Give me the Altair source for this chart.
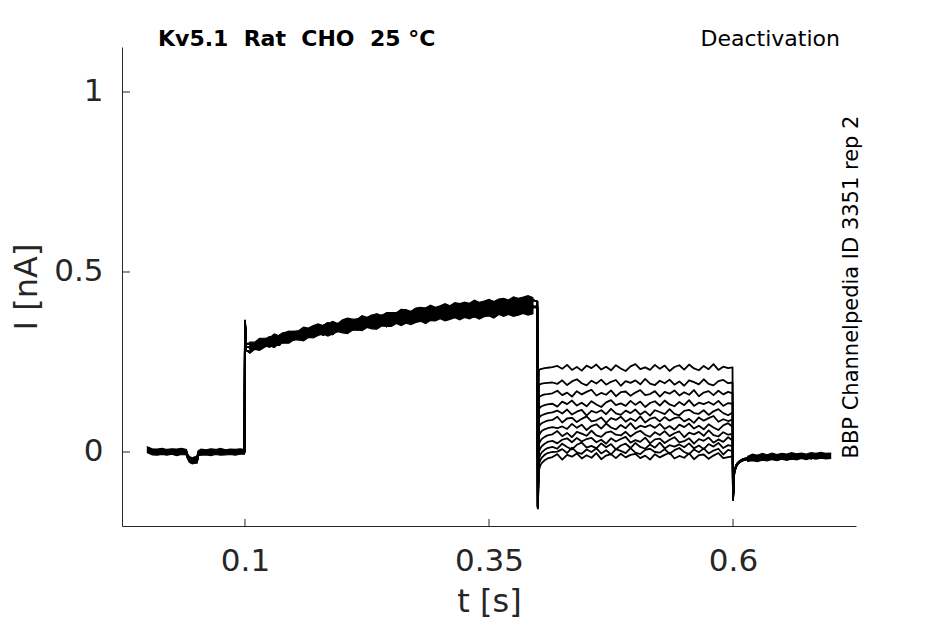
import altair as alt
import pandas as pd

# ---------------- data ----------------
t_pre = [0.0, 0.005, 0.01, 0.015, 0.02, 0.025, 0.03, 0.035, 0.04, 0.041, 0.043, 0.046,
         0.049, 0.051, 0.052, 0.055, 0.06, 0.065, 0.07, 0.075, 0.08, 0.085, 0.09, 0.095, 0.0995]
pre_A = [0.010, 0.003, -0.004, 0.005, -0.002, 0.004, -0.005, 0.002, 0.001, -0.012,
         -0.021, -0.026, -0.020, -0.023, -0.004, 0.003, -0.004, 0.002, -0.003, 0.004,
         -0.002, 0.003, -0.004, 0.002, 0.001]
pre_B = [0.004, -0.003, 0.005, -0.004, 0.003, -0.003, 0.004, -0.004, -0.002, -0.010,
         -0.024, -0.021, -0.027, -0.018, -0.001, -0.004, 0.003, -0.003, 0.004, -0.004,
         0.003, -0.003, 0.002, -0.002, 0.003]
pre_C = [0.007, 0.000, 0.002, -0.002, 0.005, -0.001, 0.001, 0.004, -0.003, -0.014,
         -0.019, -0.025, -0.022, -0.025, -0.006, 0.001, 0.000, 0.004, -0.001, 0.001,
         0.004, -0.001, 0.003, -0.003, -0.001]
pre_hi = [0.014, 0.009, 0.008, 0.010, 0.007, 0.009, 0.008, 0.010, 0.007, -0.004,
          -0.013, -0.016, -0.013, -0.014, 0.003, 0.008, 0.006, 0.009, 0.007, 0.010,
          0.006, 0.008, 0.007, 0.009, 0.007]
pre_lo = [-0.002, -0.008, -0.009, -0.007, -0.009, -0.006, -0.010, -0.007, -0.008, -0.018,
          -0.029, -0.033, -0.031, -0.031, -0.010, -0.009, -0.008, -0.010, -0.007, -0.009,
          -0.008, -0.007, -0.009, -0.006, -0.006]

t_act = [0.1, 0.1012,
         0.105, 0.11, 0.115, 0.12, 0.125, 0.13, 0.135, 0.14, 0.145, 0.15,
         0.155, 0.16, 0.165, 0.17, 0.175, 0.18, 0.185, 0.19, 0.195, 0.2,
         0.205, 0.21, 0.215, 0.22, 0.225, 0.23, 0.235, 0.24, 0.245, 0.25,
         0.255, 0.26, 0.265, 0.27, 0.275, 0.28, 0.285, 0.29, 0.295, 0.3,
         0.305, 0.31, 0.315, 0.32, 0.325, 0.33, 0.335, 0.34, 0.345, 0.35,
         0.355, 0.36, 0.365, 0.37, 0.375, 0.38, 0.385, 0.39, 0.395,
         0.3995]
act_A = [0.365, 0.300,
         0.301, 0.299, 0.313, 0.309, 0.319, 0.311, 0.323, 0.331, 0.324, 0.334,
         0.328, 0.344, 0.338, 0.348, 0.337, 0.350, 0.358, 0.348, 0.356, 0.351,
         0.366, 0.359, 0.368, 0.357, 0.371, 0.379, 0.368, 0.379, 0.370, 0.385,
         0.370, 0.384, 0.394, 0.381, 0.392, 0.381, 0.399, 0.389, 0.398, 0.384,
         0.403, 0.394, 0.410, 0.394, 0.405, 0.393, 0.413, 0.403, 0.411, 0.395,
         0.415, 0.404, 0.420, 0.403, 0.416, 0.403, 0.425, 0.411, 0.422,
         0.418]
act_B = [0.358, 0.283,
         0.277, 0.289, 0.288, 0.302, 0.292, 0.302, 0.297, 0.312, 0.317, 0.312,
         0.322, 0.313, 0.326, 0.322, 0.336, 0.325, 0.334, 0.327, 0.344, 0.344,
         0.338, 0.353, 0.340, 0.351, 0.348, 0.362, 0.349, 0.361, 0.349, 0.366,
         0.365, 0.357, 0.373, 0.358, 0.373, 0.381, 0.370, 0.382, 0.368, 0.382,
         0.374, 0.391, 0.380, 0.392, 0.378, 0.389, 0.376, 0.394, 0.385, 0.399,
         0.383, 0.397, 0.383, 0.397, 0.404, 0.390, 0.401, 0.386, 0.405,
         0.400]
act_C = [0.362, 0.292,
         0.291, 0.301, 0.294, 0.306, 0.304, 0.317, 0.309, 0.310, 0.324, 0.319,
         0.332, 0.326, 0.325, 0.338, 0.337, 0.347, 0.336, 0.347, 0.339, 0.355,
         0.348, 0.357, 0.364, 0.352, 0.361, 0.354, 0.369, 0.363, 0.375, 0.363,
         0.375, 0.383, 0.370, 0.379, 0.370, 0.385, 0.379, 0.394, 0.379, 0.388,
         0.397, 0.382, 0.394, 0.387, 0.403, 0.391, 0.401, 0.388, 0.408, 0.396,
         0.404, 0.391, 0.407, 0.412, 0.399, 0.411, 0.397, 0.411, 0.401,
         0.405]
t_band = [0.105, 0.11, 0.115, 0.12, 0.125, 0.13, 0.135, 0.14, 0.145, 0.15,
          0.155, 0.16, 0.165, 0.17, 0.175, 0.18, 0.185, 0.19, 0.195, 0.2,
          0.205, 0.21, 0.215, 0.22, 0.225, 0.23, 0.235, 0.24, 0.245, 0.25,
          0.255, 0.26, 0.265, 0.27, 0.275, 0.28, 0.285, 0.29, 0.295, 0.3,
          0.305, 0.31, 0.315, 0.32, 0.325, 0.33, 0.335, 0.34, 0.345, 0.35,
          0.355, 0.36, 0.365, 0.37, 0.375, 0.38, 0.385, 0.39, 0.395]
act_hi = [0.305, 0.305, 0.316, 0.316, 0.317, 0.328, 0.323, 0.331, 0.336, 0.335,
          0.337, 0.347, 0.344, 0.351, 0.356, 0.351, 0.357, 0.363, 0.357, 0.367,
          0.372, 0.369, 0.369, 0.379, 0.374, 0.380, 0.384, 0.379, 0.387, 0.387,
          0.387, 0.396, 0.395, 0.391, 0.400, 0.402, 0.400, 0.408, 0.402, 0.406,
          0.412, 0.406, 0.415, 0.412, 0.416, 0.413, 0.422, 0.416, 0.419, 0.424,
          0.418, 0.425, 0.427, 0.422, 0.431, 0.427, 0.430, 0.434, 0.429]
act_lo = [0.275, 0.285, 0.282, 0.291, 0.295, 0.290, 0.302, 0.302, 0.302, 0.312,
          0.311, 0.309, 0.318, 0.317, 0.324, 0.328, 0.322, 0.328, 0.334, 0.331,
          0.329, 0.338, 0.339, 0.337, 0.346, 0.342, 0.341, 0.350, 0.349, 0.349,
          0.357, 0.351, 0.358, 0.354, 0.360, 0.363, 0.357, 0.365, 0.364, 0.370,
          0.364, 0.368, 0.373, 0.367, 0.374, 0.370, 0.376, 0.369, 0.376, 0.378,
          0.372, 0.382, 0.377, 0.382, 0.377, 0.380, 0.385, 0.380, 0.384]

t_tail = [0.4, 0.4012, 0.4025, 0.404, 0.407, 0.41, 0.415,
          0.42, 0.425, 0.43, 0.435, 0.44, 0.445, 0.45, 0.455, 0.46, 0.465,
          0.47, 0.475, 0.48, 0.485, 0.49, 0.495, 0.5, 0.505, 0.51, 0.515,
          0.52, 0.525, 0.53, 0.535, 0.54, 0.545, 0.55, 0.555, 0.56, 0.565,
          0.57, 0.575, 0.58, 0.585, 0.59, 0.595,
          0.5995]
tail_1 = [-0.155, 0.228, 0.230, 0.231, 0.233, 0.234, 0.236,
          0.239, 0.231, 0.242, 0.228, 0.236, 0.226, 0.240, 0.233, 0.243, 0.229,
          0.237, 0.227, 0.241, 0.232, 0.225, 0.238, 0.244, 0.230, 0.235, 0.228,
          0.242, 0.231, 0.240, 0.225, 0.236, 0.241, 0.229, 0.243, 0.232, 0.227,
          0.239, 0.230, 0.244, 0.228, 0.237, 0.233, 0.235]
tail_2 = [-0.150, 0.186, 0.188, 0.190, 0.191, 0.192, 0.193,
          0.189, 0.199, 0.186, 0.196, 0.202, 0.191, 0.185, 0.198, 0.190, 0.201,
          0.187, 0.195, 0.200, 0.184, 0.197, 0.192, 0.199, 0.188, 0.203, 0.190,
          0.186, 0.198, 0.191, 0.201, 0.187, 0.196, 0.184, 0.199, 0.194, 0.188,
          0.202, 0.189, 0.185, 0.197, 0.200, 0.191, 0.193]
tail_3 = [-0.152, 0.152, 0.155, 0.157, 0.160, 0.161, 0.163,
          0.170, 0.158, 0.165, 0.154, 0.169, 0.160, 0.167, 0.173, 0.157, 0.164,
          0.159, 0.171, 0.155, 0.166, 0.168, 0.156, 0.165, 0.172, 0.158, 0.161,
          0.169, 0.154, 0.167, 0.162, 0.171, 0.157, 0.166, 0.159, 0.172, 0.155,
          0.165, 0.169, 0.158, 0.170, 0.160, 0.167, 0.163]
tail_4 = [-0.155, 0.120, 0.124, 0.127, 0.130, 0.132, 0.134,
          0.126, 0.140, 0.133, 0.143, 0.129, 0.137, 0.127, 0.141, 0.132, 0.125,
          0.138, 0.144, 0.130, 0.135, 0.128, 0.142, 0.131, 0.140, 0.125, 0.136,
          0.141, 0.129, 0.143, 0.132, 0.127, 0.139, 0.130, 0.144, 0.128, 0.137,
          0.133, 0.139, 0.131, 0.142, 0.128, 0.136, 0.134]
tail_5 = [-0.150, 0.094, 0.099, 0.102, 0.105, 0.108, 0.110,
          0.115, 0.107, 0.118, 0.104, 0.112, 0.117, 0.101, 0.114, 0.109, 0.116,
          0.105, 0.120, 0.107, 0.103, 0.115, 0.108, 0.118, 0.104, 0.113, 0.101,
          0.116, 0.111, 0.105, 0.119, 0.106, 0.102, 0.114, 0.117, 0.108, 0.106,
          0.116, 0.103, 0.113, 0.119, 0.108, 0.102, 0.110]
tail_6 = [-0.153, 0.070, 0.076, 0.080, 0.084, 0.087, 0.089,
          0.098, 0.082, 0.093, 0.095, 0.083, 0.092, 0.099, 0.085, 0.088, 0.096,
          0.081, 0.094, 0.089, 0.098, 0.084, 0.093, 0.086, 0.099, 0.082, 0.092,
          0.096, 0.085, 0.097, 0.087, 0.094, 0.097, 0.085, 0.092, 0.081, 0.096,
          0.087, 0.094, 0.100, 0.084, 0.091, 0.086, 0.090]
tail_7 = [-0.155, 0.045, 0.053, 0.058, 0.063, 0.066, 0.069,
          0.066, 0.071, 0.064, 0.078, 0.067, 0.076, 0.061, 0.072, 0.077, 0.065,
          0.079, 0.068, 0.063, 0.075, 0.066, 0.080, 0.064, 0.073, 0.069, 0.075,
          0.067, 0.078, 0.064, 0.072, 0.062, 0.076, 0.069, 0.079, 0.065, 0.073,
          0.063, 0.077, 0.068, 0.061, 0.074, 0.080, 0.070]
tail_8 = [-0.150, 0.022, 0.030, 0.036, 0.042, 0.046, 0.049,
          0.058, 0.044, 0.053, 0.041, 0.056, 0.051, 0.045, 0.059, 0.046, 0.042,
          0.054, 0.057, 0.048, 0.046, 0.056, 0.043, 0.053, 0.059, 0.048, 0.042,
          0.055, 0.047, 0.058, 0.044, 0.052, 0.057, 0.041, 0.054, 0.049, 0.056,
          0.045, 0.060, 0.047, 0.043, 0.055, 0.048, 0.050]
tail_9 = [-0.152, 0.000, 0.010, 0.016, 0.023, 0.028, 0.031,
          0.024, 0.034, 0.038, 0.027, 0.039, 0.029, 0.036, 0.039, 0.027, 0.034,
          0.023, 0.038, 0.029, 0.036, 0.042, 0.026, 0.033, 0.028, 0.040, 0.024,
          0.035, 0.037, 0.025, 0.034, 0.041, 0.027, 0.030, 0.038, 0.023, 0.036,
          0.031, 0.040, 0.026, 0.035, 0.028, 0.041, 0.032]
tail_10 = [-0.155, -0.018, -0.008, -0.001, 0.006, 0.011, 0.014,
           0.009, 0.023, 0.014, 0.007, 0.020, 0.026, 0.012, 0.017, 0.010, 0.024,
           0.013, 0.022, 0.007, 0.018, 0.023, 0.011, 0.025, 0.014, 0.009, 0.021,
           0.012, 0.026, 0.010, 0.019, 0.015, 0.021, 0.013, 0.024, 0.010, 0.018,
           0.008, 0.022, 0.015, 0.025, 0.011, 0.019, 0.016]
tail_11 = [-0.150, -0.034, -0.023, -0.016, -0.008, -0.003, 0.000,
           0.001, 0.008, -0.003, 0.012, -0.001, -0.005, 0.007, 0.000, 0.010, -0.004,
           0.005, -0.007, 0.008, 0.003, -0.003, 0.011, -0.002, -0.006, 0.006, 0.009,
           0.000, -0.002, 0.008, -0.005, 0.005, 0.011, 0.000, -0.006, 0.007, -0.001,
           0.010, -0.004, 0.004, 0.009, -0.007, 0.006, 0.002]
tail_12 = [-0.157, -0.050, -0.038, -0.031, -0.023, -0.018, -0.014,
           -0.006, -0.021, -0.008, -0.013, -0.004, -0.018, -0.009, -0.016, -0.003, -0.020,
           -0.010, -0.006, -0.017, -0.005, -0.015, -0.008, -0.005, -0.017, -0.010, -0.021,
           -0.006, -0.015, -0.008, -0.002, -0.018, -0.011, -0.016, -0.004, -0.020, -0.009,
           -0.007, -0.019, -0.010, -0.003, -0.017, -0.014, -0.012]

t_post = [0.6, 0.6012, 0.6025, 0.604, 0.607, 0.61, 0.615,
          0.62, 0.625, 0.63, 0.635, 0.64, 0.645, 0.65, 0.655, 0.66, 0.665,
          0.67, 0.675, 0.68, 0.685, 0.69, 0.695, 0.7]
post_A = [-0.133, -0.060, -0.046, -0.036, -0.027, -0.022, -0.019,
          -0.012, -0.022, -0.013, -0.020, -0.009, -0.018, -0.011, -0.019, -0.008, -0.016,
          -0.010, -0.018, -0.007, -0.015, -0.009, -0.017, -0.011]
post_B = [-0.125, -0.055, -0.043, -0.033, -0.025, -0.020, -0.017,
          -0.022, -0.012, -0.020, -0.010, -0.018, -0.008, -0.017, -0.009, -0.016, -0.011,
          -0.006, -0.015, -0.008, -0.016, -0.007, -0.013, -0.009]
post_C = [-0.130, -0.058, -0.044, -0.034, -0.028, -0.023, -0.020,
          -0.015, -0.010, -0.021, -0.014, -0.008, -0.019, -0.012, -0.016, -0.020, -0.009,
          -0.017, -0.011, -0.018, -0.008, -0.014, -0.010, -0.015]
t_post_band = [0.615, 0.62, 0.625, 0.63, 0.635, 0.64, 0.645, 0.65, 0.655,
               0.66, 0.665, 0.67, 0.675, 0.68, 0.685, 0.69, 0.695, 0.7]
post_hi = [-0.012, -0.006, -0.009, -0.004, -0.008, -0.003, -0.007, -0.004, -0.006,
           -0.002, -0.005, -0.003, -0.006, -0.002, -0.004, -0.001, -0.004, -0.003]
post_lo = [-0.026, -0.024, -0.027, -0.023, -0.025, -0.021, -0.024, -0.020, -0.023,
           -0.019, -0.022, -0.018, -0.021, -0.017, -0.020, -0.017, -0.019, -0.018]

tails = [tail_1, tail_2, tail_3, tail_4, tail_5, tail_6,
         tail_7, tail_8, tail_9, tail_10, tail_11, tail_12]
pre_variants = [pre_A, pre_B, pre_C]
act_variants = [act_A, act_B, act_C]
post_variants = [post_A, post_B, post_C]

x_tick_values = [0.1, 0.35, 0.6]
y_tick_values = [0, 0.5, 1]
x_domain = [-0.026, 0.726]
y_domain = [-0.2056, 1.125]

title_left = "Kv5.1\u00a0\u00a0Rat\u00a0\u00a0CHO\u00a0\u00a025\u00a0°C"
title_right = "Deactivation"
side_text = "BBP Channelpedia ID 3351 rep 2"

# ---------------- tables ----------------
rows = []
for k, tail in enumerate(tails):
    v = k % 3
    for seg_t, seg_i in ((t_pre, pre_variants[v]), (t_act, act_variants[v]),
                         (t_tail, tail), (t_post, post_variants[v])):
        for tt, ii in zip(seg_t, seg_i):
            rows.append({"trace": k, "t": tt, "I": ii})
df = pd.DataFrame(rows)

FONT = "DejaVu Sans"
INK = "#262626"

xscale = alt.Scale(domain=x_domain, nice=False, zero=False)
yscale = alt.Scale(domain=y_domain, nice=False, zero=False)

lines = alt.Chart(df).mark_line(color="black", strokeWidth=1.8, strokeJoin="round").encode(
    x=alt.X("t:Q", scale=xscale,
            axis=alt.Axis(values=x_tick_values, format="~g",
                          title="t [s]", ticks=False, grid=False, labelPadding=20,
                          labelFontSize=31, titleFontSize=32, titlePadding=10,
                          labelFont=FONT, titleFont=FONT, titleFontWeight="normal",
                          labelColor=INK, titleColor=INK, domainColor=INK, domainWidth=1)),
    y=alt.Y("I:Q", scale=yscale,
            axis=alt.Axis(values=y_tick_values, format="~g", title="I [nA]", ticks=False, grid=False,
                          labelPadding=19, labelFontSize=31, titleFontSize=32, titlePadding=10,
                          labelFont=FONT, titleFont=FONT, titleFontWeight="normal",
                          labelColor=INK, titleColor=INK, domainColor=INK, domainWidth=1)),
    detail="trace:N",
    order="t:Q",
)


def band(ts, lo, hi):
    d = pd.DataFrame({"bt": ts, "blo": lo, "bhi": hi})
    return alt.Chart(d).mark_area(fill="black", stroke="black", strokeWidth=1.2).encode(
        x=alt.X("bt:Q", scale=xscale),
        y=alt.Y("blo:Q", scale=yscale),
        y2=alt.Y2("bhi:Q"),
    )


band_pre = band(t_pre, pre_lo, pre_hi)
band_act = band(t_band, act_lo, act_hi)
band_post = band(t_post_band, post_lo, post_hi)

xt = alt.Chart(pd.DataFrame({"tx": x_tick_values})).mark_rule(color=INK, strokeWidth=1).encode(
    x=alt.X("tx:Q", scale=xscale), y=alt.value(479), y2=alt.value(472))
yt = alt.Chart(pd.DataFrame({"ty": y_tick_values})).mark_rule(color=INK, strokeWidth=1).encode(
    y=alt.Y("ty:Q", scale=yscale), x=alt.value(0), x2=alt.value(8))

one = pd.DataFrame({"a": [0]})
t_left = alt.Chart(one).mark_text(text=title_left, font=FONT, fontSize=22, fontWeight="bold",
                                  align="left", baseline="alphabetic", color="black").encode(
    x=alt.value(36), y=alt.value(-1))
t_right = alt.Chart(one).mark_text(text=title_right, font=FONT, fontSize=22,
                                   align="right", baseline="alphabetic", color="black").encode(
    x=alt.value(718), y=alt.value(-1))
t_side = alt.Chart(one).mark_text(text=side_text, font=FONT, fontSize=21, angle=270,
                                  align="center", baseline="alphabetic", color="black").encode(
    x=alt.value(736), y=alt.value(240))

chart = alt.layer(lines, band_pre, band_act, band_post, xt, yt, t_left, t_right, t_side).properties(
    width=734, height=479,
    autosize=alt.AutoSizeParams(type="none"),
    padding={"left": 114, "top": 39, "right": 81, "bottom": 98},
    background="white",
).configure_view(stroke=None)

chart.save("out.html", embed_options={"renderer": "svg", "actions": False})
